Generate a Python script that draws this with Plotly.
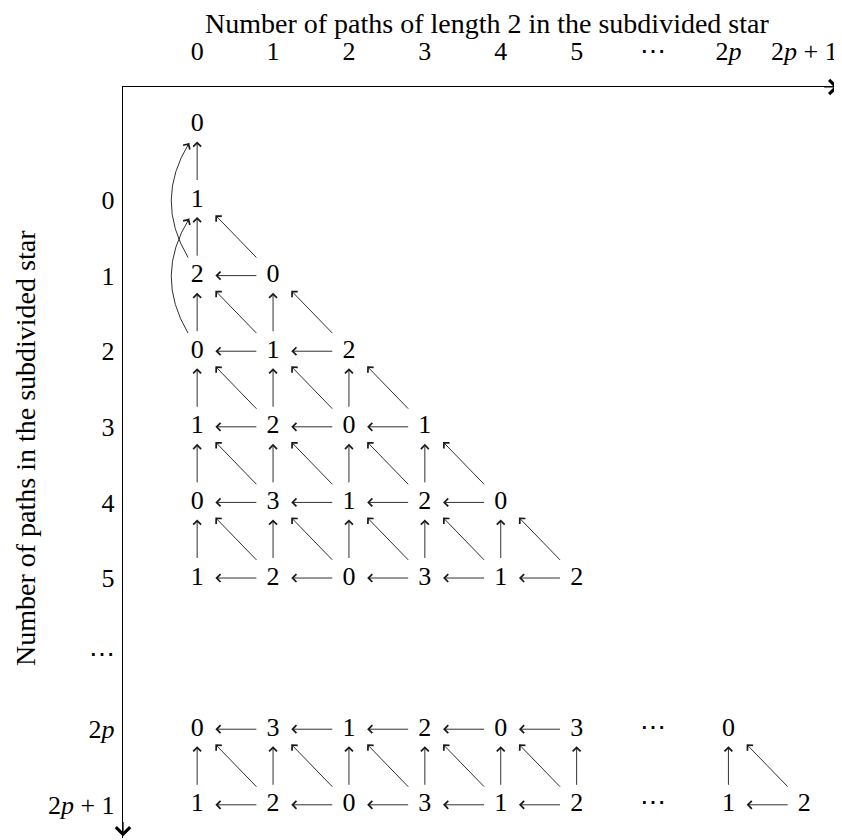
import plotly.graph_objects as go

# ---------------- data ----------------
col_labels = ['0', '1', '2', '3', '4', '5', '⋯', '2<i>p</i>', '2<i>p</i> + 1']
row_labels = ['0', '1', '2', '3', '4', '5', '⋯', '2<i>p</i>', '2<i>p</i> + 1']
tick_positions = list(range(9))

# rows of the triangular part (row -1 is the extra top node)
row_m1 = [0]
row_0 = [1]
row_1 = [2, 0]
row_2 = [0, 1, 2]
row_3 = [1, 2, 0, 1]
row_4 = [0, 3, 1, 2, 0]
row_5 = [1, 2, 0, 3, 1, 2]
# rows 2p and 2p+1 (axis positions 7 and 8)
row_2p_head = [0, 3, 1, 2, 0, 3]
row_2p1_head = [1, 2, 0, 3, 1, 2]
row_2p_tail = {7: 0}
row_2p1_tail = {7: 1, 8: 2}
dots_cells = [(6, 7), (6, 8)]
curved_edges = [((0, 1), (0, -1)), ((0, 2), (0, 0))]

# ---------------- build nodes ----------------
nodes = {}
for r, vals in [(-1, row_m1), (0, row_0), (1, row_1), (2, row_2),
                (3, row_3), (4, row_4), (5, row_5),
                (7, row_2p_head), (8, row_2p1_head)]:
    for c, v in enumerate(vals):
        nodes[(c, r)] = v
for c, v in row_2p_tail.items():
    nodes[(c, 7)] = v
for c, v in row_2p1_tail.items():
    nodes[(c, 8)] = v

# ---------------- style ----------------
FONT = 'Liberation Serif'
FS = 26
FS_TITLE = 28
LC = '#1a1a1a'
H_TAIL, H_HEAD = 0.20, 0.24
V_TAIL, V_HEAD = 0.245, 0.225
D_TAIL = (0.20, 0.22)
D_HEAD = (0.24, 0.20)

fig = go.Figure()

fig.add_trace(go.Scatter(
    x=[k[0] for k in nodes], y=[k[1] for k in nodes],
    text=[str(v) for v in nodes.values()], mode='text',
    textfont=dict(family=FONT, size=FS, color='black'),
    textposition='middle center', cliponaxis=False, hoverinfo='skip',
    showlegend=False))
fig.add_trace(go.Scatter(
    x=[d[0] for d in dots_cells], y=[d[1] for d in dots_cells],
    text=['⋯'] * len(dots_cells), mode='text',
    textfont=dict(family=FONT, size=FS, color='black'),
    textposition='middle center', cliponaxis=False, hoverinfo='skip',
    showlegend=False))

annotations = []


def arrow(x_head, y_head, x_tail, y_tail, width=0.9, size=1.7):
    annotations.append(dict(
        x=x_head, y=y_head, ax=x_tail, ay=y_tail, xref='x', yref='y',
        axref='x', ayref='y', text='', showarrow=True, arrowhead=4,
        arrowsize=size, arrowwidth=width, arrowcolor=LC, standoff=0))


for (c, r) in nodes:
    if (c - 1, r) in nodes:
        arrow(c - 1 + H_HEAD, r, c - H_TAIL, r)
    if (c, r - 1) in nodes:
        arrow(c, r - 1 + V_HEAD, c, r - V_TAIL)
    if (c - 1, r - 1) in nodes:
        arrow(c - 1 + D_HEAD[0], r - 1 + D_HEAD[1], c - D_TAIL[0], r - D_TAIL[1])

shapes = []
for (c0, r0), (c1, r1) in curved_edges:
    sx, sy = c0 - 0.12, r0 - 0.24
    ex, ey = c1 - 0.105, r1 + 0.245
    cx, cy = c0 - 0.57, (r0 + r1) / 2
    shapes.append(dict(type='path', xref='x', yref='y',
                       path=f'M {sx},{sy} Q {cx},{cy} {ex},{ey}',
                       line=dict(color=LC, width=0.9)))
    t = 0.08
    arrow(ex, ey, ex + t * (cx - ex), ey + t * (cy - ey))

# axis arrowheads
X_RANGE = [-0.977, 8.47]
Y_RANGE = [8.439, -1.495]
annotations.append(dict(x=X_RANGE[1] - 0.02, y=Y_RANGE[1], xref='x', yref='y',
                        ax=-16, ay=0, text='', showarrow=True, arrowhead=4,
                        arrowsize=2.3, arrowwidth=1.2, arrowcolor='black'))
annotations.append(dict(x=X_RANGE[0], y=Y_RANGE[0] - 0.02, xref='x', yref='y',
                        ax=0, ay=-16, text='', showarrow=True, arrowhead=4,
                        arrowsize=2.3, arrowwidth=1.2, arrowcolor='black'))

# titles
annotations.append(dict(text='Number of paths of length 2 in the subdivided star',
                        xref='paper', yref='paper', x=0.508, y=1.085,
                        xanchor='center', yanchor='middle', showarrow=False,
                        font=dict(family=FONT, size=FS_TITLE, color='black')))
annotations.append(dict(text='Number of paths in the subdivided star',
                        xref='paper', yref='paper', x=-0.137, y=0.519,
                        xanchor='center', yanchor='middle', showarrow=False,
                        textangle=-90,
                        font=dict(family=FONT, size=FS_TITLE, color='black')))

fig.update_layout(
    width=834, height=832,
    margin=dict(l=115, r=2, t=79, b=2),
    paper_bgcolor='white', plot_bgcolor='white',
    annotations=annotations, shapes=shapes,
    xaxis=dict(range=X_RANGE, side='top', showgrid=False, zeroline=False,
               showline=True, linecolor='black', linewidth=1.4,
               tickmode='array', tickvals=tick_positions, ticktext=col_labels,
               ticks='', ticklabelstandoff=15,
               tickfont=dict(family=FONT, size=FS, color='black')),
    yaxis=dict(range=Y_RANGE, showgrid=False, zeroline=False,
               showline=True, linecolor='black', linewidth=1.4,
               tickmode='array', tickvals=tick_positions, ticktext=row_labels,
               ticks='', ticklabelstandoff=2,
               tickfont=dict(family=FONT, size=FS, color='black')),
)

fig.write_html('out.html')
